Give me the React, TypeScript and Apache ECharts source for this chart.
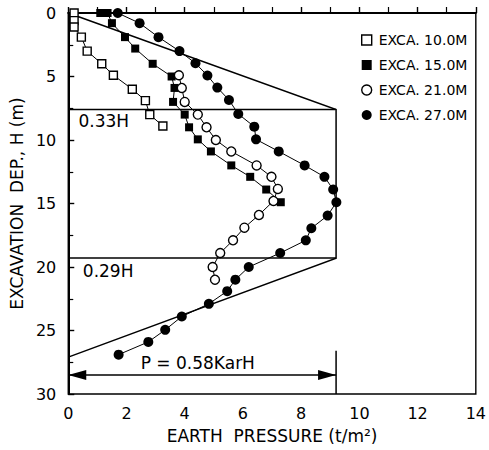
import { useEffect, useRef } from "react";
import * as echarts from "echarts";

// Measured earth pressure (t/m²) against excavation depth H (m) for four excavation stages
const exca10: [number, number][] = [
  [0.2, 0], [0.2, 0.6], [0.2, 1.1], [0.45, 1.9], [0.65, 3.0], [1.15, 4.0],
  [1.55, 4.9], [2.2, 6.0], [2.65, 6.9], [2.8, 8.0], [3.25, 8.9],
];
const exca15: [number, number][] = [
  [1.1, 0], [1.35, 0], [1.5, 0.8], [1.95, 1.9], [2.3, 2.8], [2.9, 4.0],
  [3.55, 5.0], [3.65, 5.9], [3.6, 7.0], [4.0, 8.0], [4.15, 9.0], [4.45, 9.95],
  [4.9, 10.9], [5.6, 12.0], [6.25, 12.9], [6.8, 13.9], [7.3, 14.9],
];
const exca21: [number, number][] = [
  [3.8, 4.9], [3.9, 5.9], [4.0, 7.0], [4.45, 8.0], [4.75, 9.0], [5.07, 10.0],
  [5.6, 10.9], [6.47, 12.0], [6.98, 12.9], [7.2, 13.85], [7.05, 14.8],
  [6.55, 15.9], [6.05, 16.9], [5.66, 17.9], [5.22, 18.9], [4.96, 20.0], [5.04, 21.0],
];
const exca27: [number, number][] = [
  [1.7, 0], [2.45, 0.8], [3.1, 1.9], [3.82, 3.0], [4.37, 3.96], [4.78, 4.92],
  [5.12, 5.87], [5.52, 6.85], [5.84, 7.95], [6.39, 8.95], [6.45, 9.95],
  [7.23, 10.9], [8.12, 12.0], [8.8, 12.9], [9.1, 13.9], [9.21, 14.9],
  [8.91, 15.95], [8.35, 16.95], [8.16, 17.9], [7.28, 18.9], [6.2, 20.0],
  [5.74, 21.0], [5.46, 21.9], [4.83, 22.9], [3.9, 23.9], [3.33, 24.95],
  [2.75, 25.9], [1.73, 26.9],
];

const seriesNames = ["EXCA. 10.0M", "EXCA. 15.0M", "EXCA. 21.0M", "EXCA. 27.0M"];

// Apparent pressure envelope: P = 0.58·Ka·γ·H
const envelopePressure = 9.2;
const envelopeTopDepth = 7.6;
const envelopeBottomDepth = 19.3;
const envelopeToeDepth = 27.1;
const envelopeOutline: [number, number][] = [
  [0, 0],
  [envelopePressure, envelopeTopDepth],
  [envelopePressure, envelopeBottomDepth],
  [0, envelopeToeDepth],
];
const dimensionDepth = 28.5;
const dimensionTickTop = 26.6;
const upperLabel = "0.33H";
const lowerLabel = "0.29H";
const envelopeLabel = "P = 0.58KarH";

const FONT = "DejaVu Sans";

export default function App() {
  const ref = useRef<HTMLDivElement>(null);

  useEffect(() => {
    if (!ref.current) return;
    const chart = echarts.init(ref.current, null, { renderer: "svg" });

    const openStyle = { color: "#fff", borderColor: "#000", borderWidth: 1.4 };
    const solidStyle = { color: "#000", borderColor: "#000", borderWidth: 0 };

    const makeSeries = (
      name: string,
      data: [number, number][],
      symbol: string,
      size: number,
      itemStyle: object
    ) => ({
      name,
      type: "line",
      data,
      symbol,
      symbolSize: size,
      showSymbol: true,
      itemStyle,
      lineStyle: { color: "#000", width: 1 },
      z: 5,
      emphasis: { disabled: true },
    });

    const option = {
      animation: false,
      backgroundColor: "#fff",
      grid: {
        left: 67,
        top: 13,
        right: 11,
        bottom: 56,
        show: true,
        borderColor: "#000",
        borderWidth: 1.4,
      },
      legend: {
        orient: "vertical",
        left: 356,
        top: 28,
        itemWidth: 10,
        itemHeight: 10,
        itemGap: 11,
        selectedMode: false,
        textStyle: { fontFamily: FONT, fontSize: 14, color: "#000", padding: [0, 0, 0, 2] },
        data: [
          { name: seriesNames[0], icon: "rect", itemStyle: openStyle },
          { name: seriesNames[1], icon: "rect", itemStyle: solidStyle },
          { name: seriesNames[2], icon: "circle", itemStyle: openStyle },
          { name: seriesNames[3], icon: "circle", itemStyle: solidStyle },
        ],
      },
      xAxis: {
        type: "value",
        min: 0,
        max: 14,
        interval: 2,
        name: "EARTH  PRESSURE (t/m²)",
        nameLocation: "middle",
        nameGap: 33,
        nameTextStyle: { fontFamily: FONT, fontSize: 17, color: "#000" },
        axisLine: { lineStyle: { color: "#000", width: 2 } },
        axisTick: { inside: true, length: 6, lineStyle: { color: "#000", width: 1.4 } },
        minorTick: { show: true, splitNumber: 2, length: 6, lineStyle: { color: "#000", width: 1.2 } },
        axisLabel: { fontFamily: FONT, fontSize: 16, color: "#000", margin: 11 },
        splitLine: { show: false },
      },
      yAxis: {
        type: "value",
        inverse: true,
        min: 0,
        max: 30,
        interval: 5,
        name: "EXCAVATION  DEP., H (m)",
        nameLocation: "middle",
        nameGap: 38,
        nameTextStyle: { fontFamily: FONT, fontSize: 17, color: "#000" },
        axisLine: { lineStyle: { color: "#000", width: 2 } },
        axisTick: { inside: true, length: 6, lineStyle: { color: "#000", width: 1.4 } },
        minorTick: { show: true, splitNumber: 2, length: 5, lineStyle: { color: "#000", width: 1.2 } },
        axisLabel: { fontFamily: FONT, fontSize: 16, color: "#000", margin: 12 },
        splitLine: { show: false },
      },
      series: [
        {
          name: "envelope",
          type: "custom",
          data: [[0, 0]],
          z: 2,
          silent: true,
          clip: false,
          renderItem: (_params: unknown, api: any) => {
            const c = (x: number, y: number) => api.coord([x, y]);
            const line = { stroke: "#000", lineWidth: 1.5, fill: "none" };
            const outline = envelopeOutline.map(([x, y]) => c(x, y));
            const upL = c(0, envelopeTopDepth);
            const upR = c(envelopePressure, envelopeTopDepth);
            const loL = c(0, envelopeBottomDepth);
            const loR = c(envelopePressure, envelopeBottomDepth);
            const dimL = c(0, dimensionDepth);
            const dimR = c(envelopePressure, dimensionDepth);
            const tickTop = c(envelopePressure, dimensionTickTop);
            const tickBottom = c(envelopePressure, 30);
            const head = 18;
            const half = 5;
            const text = (str: string, p: number[], align: string) => ({
              type: "text",
              x: p[0],
              y: p[1],
              style: {
                text: str,
                fill: "#000",
                fontFamily: FONT,
                fontSize: 17,
                align,
                verticalAlign: "middle",
              },
            });
            return {
              type: "group",
              children: [
                { type: "polyline", shape: { points: outline }, style: line },
                { type: "line", shape: { x1: upL[0], y1: upL[1], x2: upR[0], y2: upR[1] }, style: line },
                { type: "line", shape: { x1: loL[0], y1: loL[1], x2: loR[0], y2: loR[1] }, style: line },
                { type: "line", shape: { x1: tickTop[0], y1: tickTop[1], x2: tickBottom[0], y2: tickBottom[1] }, style: line },
                { type: "line", shape: { x1: dimL[0], y1: dimL[1], x2: dimR[0], y2: dimR[1] }, style: line },
                {
                  type: "polygon",
                  shape: { points: [[dimL[0], dimL[1]], [dimL[0] + head, dimL[1] - half], [dimL[0] + head, dimL[1] + half]] },
                  style: { fill: "#000" },
                },
                {
                  type: "polygon",
                  shape: { points: [[dimR[0], dimR[1]], [dimR[0] - head, dimR[1] - half], [dimR[0] - head, dimR[1] + half]] },
                  style: { fill: "#000" },
                },
                text(upperLabel, c(0.35, 8.5), "left"),
                text(lowerLabel, c(0.5, 20.3), "left"),
                text(envelopeLabel, c(4.45, 27.55), "center"),
              ],
            };
          },
        },
        makeSeries(seriesNames[0], exca10, "rect", 8, openStyle),
        makeSeries(seriesNames[1], exca15, "rect", 8, solidStyle),
        makeSeries(seriesNames[2], exca21, "circle", 9, openStyle),
        makeSeries(seriesNames[3], exca27, "circle", 10, solidStyle),
      ],
    };

    chart.setOption(option as any);
    return () => chart.dispose();
  }, []);

  return (
    <div
      ref={ref}
      style={{ position: "absolute", left: 0, top: 0, width: 489, height: 450 }}
    />
  );
}
